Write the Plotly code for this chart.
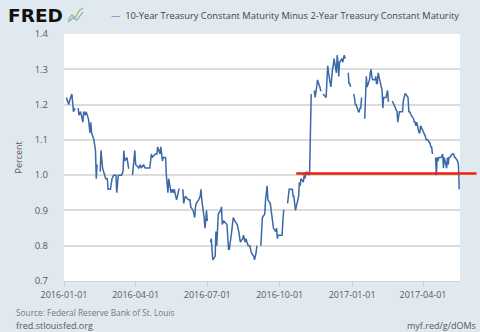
import plotly.graph_objects as go
import pandas as pd

# ---------------- data ----------------
obs_dates = [
    "2016-01-04", "2016-01-07", "2016-01-08", "2016-01-11", "2016-01-13", "2016-01-15", "2016-01-18",
    "2016-01-19", "2016-01-20", "2016-01-22", "2016-01-25", "2016-01-26", "2016-01-28", "2016-01-29",
    "2016-02-01", "2016-02-03", "2016-02-04", "2016-02-05", "2016-02-08", "2016-02-10", "2016-02-11",
    "2016-02-12", "2016-02-15", "2016-02-16", "2016-02-17", "2016-02-19", "2016-02-22", "2016-02-23",
    "2016-02-25", "2016-02-26", "2016-02-29", "2016-03-02", "2016-03-04", "2016-03-07", "2016-03-08",
    "2016-03-10", "2016-03-11", "2016-03-14", "2016-03-16", "2016-03-17", "2016-03-18", "2016-03-21",
    "2016-03-23", "2016-03-24", "2016-03-25", "2016-03-28", "2016-03-31", "2016-04-01", "2016-04-05",
    "2016-04-07", "2016-04-08", "2016-04-11", "2016-04-13", "2016-04-15", "2016-04-18", "2016-04-19",
    "2016-04-21", "2016-04-22", "2016-04-26", "2016-04-28", "2016-04-29", "2016-05-02", "2016-05-03",
    "2016-05-05", "2016-05-06", "2016-05-09", "2016-05-10", "2016-05-12", "2016-05-13", "2016-05-16",
    "2016-05-17", "2016-05-19", "2016-05-20", "2016-05-23", "2016-05-24", "2016-05-26", "2016-05-27",
    "2016-05-30", "2016-05-31", "2016-06-01", "2016-06-03", "2016-06-06", "2016-06-07", "2016-06-09",
    "2016-06-10", "2016-06-13", "2016-06-15", "2016-06-16", "2016-06-17", "2016-06-20", "2016-06-22",
    "2016-06-23", "2016-06-24", "2016-06-27", "2016-06-28", "2016-06-29", "2016-06-30", "2016-07-01",
    "2016-07-04", "2016-07-05", "2016-07-06", "2016-07-08", "2016-07-11", "2016-07-12", "2016-07-13",
    "2016-07-15", "2016-07-18", "2016-07-19", "2016-07-20", "2016-07-22", "2016-07-25", "2016-07-26",
    "2016-07-28", "2016-07-29", "2016-08-01", "2016-08-03", "2016-08-05", "2016-08-08", "2016-08-10",
    "2016-08-12", "2016-08-15", "2016-08-16", "2016-08-18", "2016-08-19", "2016-08-22", "2016-08-24",
    "2016-08-26", "2016-08-29", "2016-08-30", "2016-09-01", "2016-09-02", "2016-09-05", "2016-09-07",
    "2016-09-09", "2016-09-12", "2016-09-13", "2016-09-15", "2016-09-16", "2016-09-19", "2016-09-20",
    "2016-09-21", "2016-09-23", "2016-09-26", "2016-09-27", "2016-09-28", "2016-09-29", "2016-10-03",
    "2016-10-04", "2016-10-05", "2016-10-06", "2016-10-07", "2016-10-10", "2016-10-11", "2016-10-13",
    "2016-10-14", "2016-10-17", "2016-10-18", "2016-10-19", "2016-10-21", "2016-10-24", "2016-10-25",
    "2016-10-26", "2016-10-27", "2016-10-28", "2016-10-31", "2016-11-01", "2016-11-02", "2016-11-04",
    "2016-11-07", "2016-11-08", "2016-11-09", "2016-11-10", "2016-11-11", "2016-11-14", "2016-11-15",
    "2016-11-17", "2016-11-18", "2016-11-21", "2016-11-22", "2016-11-23", "2016-11-24", "2016-11-25",
    "2016-11-28", "2016-11-29", "2016-11-30", "2016-12-01", "2016-12-02", "2016-12-05", "2016-12-07",
    "2016-12-08", "2016-12-09", "2016-12-12", "2016-12-13", "2016-12-14", "2016-12-15", "2016-12-16",
    "2016-12-19", "2016-12-20", "2016-12-22", "2016-12-23", "2016-12-26", "2016-12-27", "2016-12-28",
    "2016-12-29", "2016-12-30", "2017-01-02", "2017-01-03", "2017-01-04", "2017-01-05", "2017-01-06",
    "2017-01-09", "2017-01-10", "2017-01-11", "2017-01-12", "2017-01-13", "2017-01-16", "2017-01-17",
    "2017-01-18", "2017-01-19", "2017-01-20", "2017-01-23", "2017-01-24", "2017-01-25", "2017-01-26",
    "2017-01-27", "2017-01-30", "2017-01-31", "2017-02-01", "2017-02-02", "2017-02-03", "2017-02-06",
    "2017-02-08", "2017-02-09", "2017-02-10", "2017-02-13", "2017-02-14", "2017-02-15", "2017-02-16",
    "2017-02-17", "2017-02-20", "2017-02-21", "2017-02-23", "2017-02-24", "2017-02-27", "2017-02-28",
    "2017-03-01", "2017-03-02", "2017-03-03", "2017-03-06", "2017-03-07", "2017-03-09", "2017-03-10",
    "2017-03-13", "2017-03-14", "2017-03-15", "2017-03-17", "2017-03-20", "2017-03-21", "2017-03-22",
    "2017-03-23", "2017-03-24", "2017-03-27", "2017-03-28", "2017-03-29", "2017-03-31", "2017-04-03",
    "2017-04-04", "2017-04-05", "2017-04-07", "2017-04-10", "2017-04-11", "2017-04-12", "2017-04-13",
    "2017-04-14", "2017-04-17", "2017-04-18", "2017-04-19", "2017-04-20", "2017-04-21", "2017-04-24",
    "2017-04-26", "2017-04-27", "2017-04-28", "2017-05-01", "2017-05-02", "2017-05-03", "2017-05-04",
    "2017-05-05", "2017-05-08", "2017-05-10", "2017-05-11", "2017-05-12", "2017-05-15", "2017-05-16",
    "2017-05-17",
]

spread_values = [
    1.22, 1.20, 1.21, 1.23, 1.18, 1.19, None,
    1.19, 1.17, 1.18, 1.15, 1.18, 1.17, 1.18,
    1.16, 1.12, 1.15, 1.12, 1.10, 1.07, 0.99,
    1.03, None, 1.01, 1.07, 1.02, 1.00, 0.99,
    0.99, 0.96, 0.96, 0.99, 1.00, 1.00, 0.95,
    1.00, 1.00, 1.00, 1.01, 1.07, 1.04, 1.05,
    1.02, 1.02, None, 1.00, 1.07, 1.03, 1.02,
    1.03, 1.02, 1.03, 1.02, 1.02, 1.02, 1.02,
    1.06, 1.05, 1.06, 1.06, 1.08, 1.06, 1.08,
    1.04, 1.05, 1.05, 1.00, 0.95, 0.99, 0.95,
    0.96, 0.95, 0.96, 0.93, 0.94, 0.96, 0.96,
    None, 0.96, 0.92, 0.94, 0.93, 0.93, 0.93,
    0.91, 0.90, 0.88, 0.91, 0.92, 0.93, 0.94,
    0.96, 0.93, 0.88, 0.85, 0.87, 0.90, 0.87,
    None, 0.81, 0.82, 0.76, 0.77, 0.84, 0.80,
    0.89, 0.90, 0.91, 0.86, 0.87, 0.86, 0.86,
    0.79, 0.79, 0.84, 0.88, 0.87, 0.86, 0.84,
    0.81, 0.82, 0.83, 0.81, 0.82, 0.80, 0.80,
    0.78, 0.77, 0.76, 0.78, 0.80, None, 0.80,
    0.88, 0.89, 0.93, 0.97, 0.93, 0.92, 0.90,
    0.89, 0.85, 0.84, 0.85, 0.82, 0.83, 0.83,
    0.83, 0.87, 0.90, 0.90, None, 0.92, 0.96,
    0.96, 0.96, 0.94, 0.94, 0.90, 0.93, 0.94,
    0.98, 0.97, 0.99, 0.98, 1.00, 0.99, 1.01,
    1.00, 1.01, 1.20, 1.23, None, 1.24, 1.22,
    1.25, 1.27, 1.25, 1.24, 1.24, None, 1.23,
    1.22, 1.22, 1.27, 1.31, 1.29, 1.25, 1.30,
    1.31, 1.33, 1.29, 1.34, 1.32, 1.28, 1.32,
    1.33, 1.32, 1.34, 1.33, None, 1.29, 1.26,
    1.26, 1.25, None, 1.23, 1.22, 1.20, 1.20,
    1.18, 1.18, 1.19, 1.19, 1.22, None, 1.16,
    1.23, 1.28, 1.25, 1.27, 1.29, 1.30, 1.28,
    1.27, 1.27, 1.28, 1.26, 1.26, 1.29, 1.26,
    1.24, 1.19, 1.22, 1.22, 1.23, 1.24, 1.21,
    1.21, None, 1.21, 1.20, 1.19, 1.18, 1.15,
    1.17, 1.18, 1.18, 1.18, 1.21, 1.23, 1.23,
    1.22, 1.18, 1.18, 1.17, 1.16, 1.15, 1.15,
    1.14, 1.15, 1.12, 1.12, 1.14, 1.13, 1.12,
    1.11, 1.10, 1.10, 1.09, 1.08, 1.08, 1.06,
    None, 1.05, 1.00, 1.05, 1.04, 1.05, 1.05,
    1.06, 1.02, 1.05, 1.02, 1.05, 1.03, 1.05,
    1.05, 1.06, 1.06, 1.05, 1.05, 1.04, 1.03,
    0.96,
]

series_name = "10-Year Treasury Constant Maturity Minus 2-Year Treasury Constant Maturity"
x_range = ["2016-01-01", "2017-05-18"]
y_range = [0.7, 1.4]
x_tick_dates = ["2016-01-01", "2016-04-01", "2016-07-01", "2016-10-01", "2017-01-01", "2017-04-01"]
y_tick_values = [0.7, 0.8, 0.9, 1.0, 1.1, 1.2, 1.3, 1.4]
ref_line_start, ref_line_end, ref_line_level = "2016-10-22", "2017-06-08", 1.005

# ---------------- styling ----------------
BG = "#e1e9f0"
BLUE = "#3b69a8"
RED = "#f01e0a"
GRID = "#dcdcdc"
TEXT = "#595959"
FONT = "Open Sans"

W, H = 480, 332
L, R, T, B = 64, 20, 34, 51
PW, PH = W - L - R, H - T - B


def px_x(px):
    return (px - L) / PW


def px_y(py):
    return 1 - (py - T) / PH


t0, t1 = pd.Timestamp(x_range[0]), pd.Timestamp(x_range[1])


def date_to_paper(d):
    return (pd.Timestamp(d) - t0) / (t1 - t0)


fig = go.Figure()
fig.add_trace(go.Scatter(
    x=pd.to_datetime(obs_dates), y=spread_values, mode="lines",
    line=dict(color=BLUE, width=1.5), connectgaps=False,
    showlegend=False, hoverinfo="skip", name=series_name,
))

# red reference line (extends past the plot edge as in the reference)
y_ref = (ref_line_level - y_range[0]) / (y_range[1] - y_range[0])
fig.add_shape(type="line", xref="paper", yref="paper",
              x0=date_to_paper(ref_line_start), x1=date_to_paper(ref_line_end),
              y0=y_ref, y1=y_ref, line=dict(color=RED, width=2.5), layer="above")

# small FRED chart icon (decoration)
fig.add_shape(type="path", xref="paper", yref="paper",
              path=f"M {px_x(68)},{px_y(20)} L {px_x(72)},{px_y(15)} L {px_x(75)},{px_y(18)} "
                   f"L {px_x(79)},{px_y(11)} L {px_x(83)},{px_y(8)}",
              line=dict(color="#8fbf6a", width=1.2))
fig.add_shape(type="path", xref="paper", yref="paper",
              path=f"M {px_x(68)},{px_y(22)} L {px_x(73)},{px_y(18)} L {px_x(77)},{px_y(20)} "
                   f"L {px_x(83)},{px_y(12)}",
              line=dict(color="#8aa9c9", width=1.2))

annotations = [
    dict(text="<b>FRED</b>", x=px_x(6), y=px_y(15.5), xanchor="left", yanchor="middle",
         font=dict(family="DejaVu Sans", size=18.5, color="#111111")),
    dict(text=f"<span style='color:{BLUE}'>—</span>  {series_name}",
         x=px_x(109), y=px_y(15.5), xanchor="left", yanchor="middle",
         font=dict(family=FONT, size=9.3, color="#444444")),
    dict(text="Percent", x=px_x(18), y=px_y(157.5), xanchor="center", yanchor="middle",
         textangle=-90, font=dict(family=FONT, size=9, color=TEXT)),
    dict(text="Source: Federal Reserve Bank of St. Louis", x=px_x(14), y=px_y(312.5),
         xanchor="left", yanchor="middle", font=dict(family=FONT, size=8.3, color="#777777")),
    dict(text="fred.stlouisfed.org", x=px_x(14), y=px_y(325.5),
         xanchor="left", yanchor="middle", font=dict(family=FONT, size=9, color=TEXT)),
    dict(text="myf.red/g/dOMs", x=px_x(478), y=px_y(325.5),
         xanchor="right", yanchor="middle", font=dict(family=FONT, size=9, color=TEXT)),
]
for a in annotations:
    a.update(xref="paper", yref="paper", showarrow=False)

fig.update_layout(
    width=W, height=H,
    margin=dict(l=L, r=R, t=T, b=B, pad=0),
    paper_bgcolor=BG, plot_bgcolor="white",
    font=dict(family=FONT, size=9, color=TEXT),
    annotations=annotations,
    showlegend=False,
)
fig.update_xaxes(
    type="date", range=x_range, tickvals=x_tick_dates, tickformat="%Y-%m-%d",
    showgrid=False, zeroline=False, showline=True, linecolor="#c5d3e0", linewidth=1,
    ticks="outside", ticklen=5, tickcolor="#c5d3e0", tickwidth=1,
    tickfont=dict(family=FONT, size=9, color=TEXT),
)
fig.update_yaxes(
    range=y_range, tickvals=y_tick_values, tickformat=".1f",
    showgrid=True, gridcolor=GRID, gridwidth=1.5, zeroline=False, showline=False,
    ticks="", ticklabelstandoff=15,
    tickfont=dict(family=FONT, size=9.5, color=TEXT),
)

fig.write_html("out.html")
